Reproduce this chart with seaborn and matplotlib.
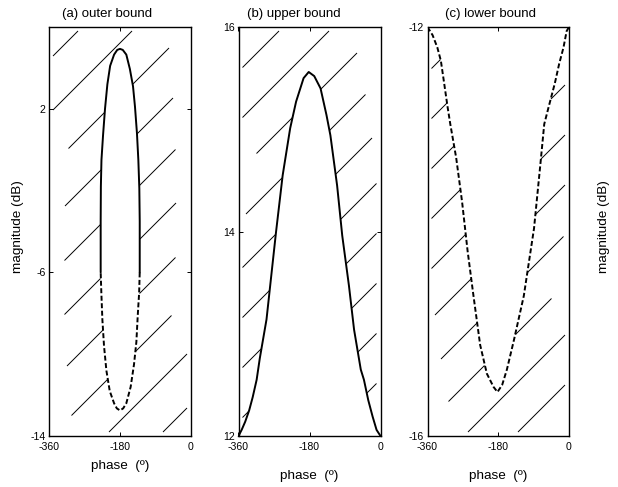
import numpy as np
import matplotlib
matplotlib.use("Agg")
import matplotlib.pyplot as plt
import seaborn as sns
from matplotlib.collections import LineCollection
from matplotlib.path import Path

# (a) outer bound: closed contour, solid upper arc and dashed lower arc
outer_upper_phase = [-229, -229, -228.5, -227, -223, -218, -212, -205, -195, -187, -180,
                     -173, -164, -155, -147, -142, -137, -133.5, -131, -130, -130]
outer_upper_mag = [-6.0, -3.5, -1.8, -0.5, 0.7, 2.0, 3.2, 4.1, 4.65, 4.88, 4.93,
                   4.88, 4.65, 3.95, 3.1, 2.1, 0.8, -0.5, -1.9, -3.5, -6.0]
outer_lower_phase = [-130, -131.5, -135, -138.5, -144.5, -153, -164, -172, -180,
                     -188, -195, -206, -214.5, -220.5, -224.7, -227.3, -229]
outer_lower_mag = [-6.0, -7.0, -8.1, -9.4, -10.5, -11.6, -12.4, -12.65, -12.75,
                   -12.65, -12.4, -11.8, -10.8, -9.6, -8.3, -7.0, -6.0]

# (b) upper bound
upper_phase = [-360, -352, -343, -333, -324, -314, -306, -289, -265, -248, -229, -214,
               -195, -182, -168, -152, -137, -127, -110, -97, -80, -67, -50, -42, -31,
               -20, -10, 0]
upper_mag = [12.0, 12.06, 12.14, 12.25, 12.38, 12.55, 12.76, 13.14, 13.99, 14.55, 15.01,
             15.27, 15.50, 15.56, 15.52, 15.40, 15.14, 14.94, 14.45, 13.96, 13.47, 13.04,
             12.65, 12.55, 12.35, 12.19, 12.06, 12.0]

# (c) lower bound
lower_phase = [-360, -347, -335, -326, -318, -309, -302, -287, -272, -258, -243, -226,
               -209, -192, -182, -170, -158, -140, -115, -89, -72, -63, -53, -36, -25,
               -14, -6, 0]
lower_mag = [-12.0, -12.08, -12.2, -12.33, -12.54, -12.78, -12.95, -13.28, -13.71, -14.19,
             -14.63, -15.11, -15.39, -15.52, -15.57, -15.50, -15.35, -15.06, -14.63, -13.97,
             -13.31, -12.95, -12.8, -12.55, -12.36, -12.2, -12.04, -12.0]

phase_ticks = [-360, -180, 0]
outer_ticks = [-14, -6, 2]
upper_ticks = [12, 14, 16]
lower_ticks = [-16, -12]

titles = ["(a) outer bound", "(b) upper bound", "(c) lower bound"]
xlabel = "phase  (º)"
ylabel = "magnitude (dB)"

sns.set_style("ticks")
plt.rcParams.update({
    "font.family": ["Liberation Sans", "DejaVu Sans"],
    "axes.unicode_minus": False,
    "lines.scale_dashes": False,
    "xtick.direction": "in", "ytick.direction": "in",
    "xtick.top": True, "ytick.right": True,
    "xtick.major.size": 3.0, "ytick.major.size": 3.0,
    "xtick.major.width": 0.7, "ytick.major.width": 0.7,
    "xtick.major.pad": 4.2, "ytick.major.pad": 2.5,
    "xtick.labelsize": 7.6, "ytick.labelsize": 7.6,
    "axes.linewidth": 1.0,
    "axes.edgecolor": "black",
    "xtick.color": "black", "ytick.color": "black",
    "text.color": "black", "axes.labelcolor": "black",
})

W, H = 618, 487
fig = plt.figure(figsize=(W / 100, H / 100), dpi=100)
TOP, BOTTOM = 27, 436


def add_panel(left, right):
    return fig.add_axes([left / W, (H - BOTTOM) / H, (right - left) / W, (BOTTOM - TOP) / H])


ax_a = add_panel(49, 191)
ax_b = add_panel(238.5, 380.5)
ax_c = add_panel(427.5, 569)

for ax, yt, ylim in [(ax_a, outer_ticks, (-14, 6)), (ax_b, upper_ticks, (12, 16)),
                     (ax_c, lower_ticks, (-16, -12))]:
    ax.set_xlim(-360, 0)
    ax.set_ylim(*ylim)
    ax.set_xticks(phase_ticks)
    ax.set_yticks(yt)
    ax.set_xticklabels([str(t) for t in phase_ticks])
    ax.set_yticklabels([str(t) for t in yt])
    for s in ax.spines.values():
        s.set_visible(True)


def draw_hatch(ax, forbidden, spacing, offset, reach=36, margin=4):
    """Short 45-degree strokes on the forbidden side of a bound."""
    bb = ax.bbox
    x0, x1 = bb.x0 + margin, bb.x1 - margin
    y0, y1 = bb.y0 + margin, bb.y1 - margin
    hpx = fig.bbox.height
    inv = ax.transData.inverted()
    segs = []
    c_min = x0 + (hpx - y1)
    c_max = x1 + (hpx - y0)
    n0 = int(np.ceil((c_min - offset) / spacing))
    n1 = int(np.floor((c_max - offset) / spacing))
    for n in range(n0, n1 + 1):
        k = hpx - (offset + n * spacing)
        lo, hi = max(x0, y0 - k), min(x1, y1 - k)
        if hi - lo < 2:
            continue
        xs = np.append(np.arange(lo, hi, 0.5), hi)
        pts = inv.transform(np.column_stack([xs, xs + k]))
        bad = forbidden(pts).astype(int)
        edges = np.flatnonzero(np.diff(np.r_[0, bad, 0]))
        for s, e in zip(edges[::2], edges[1::2] - 1):
            xa, xb = xs[s], xs[e]
            touch_s, touch_e = s > 0, e < len(xs) - 1
            pieces = []
            if touch_s and touch_e:
                if xb - xa <= 2 * reach:
                    pieces.append((xa, xb))
                else:
                    pieces += [(xa, xa + reach), (xb - reach, xb)]
            elif touch_s:
                pieces.append((xa, min(xb, xa + reach)))
            elif touch_e:
                pieces.append((max(xa, xb - reach), xb))
            else:
                pieces.append((xa, xb))
            for a, b in pieces:
                if b - a < 2:
                    continue
                segs.append(inv.transform([[a, a + k], [b, b + k]]))
    ax.add_collection(LineCollection(segs, colors="black", linewidths=0.7), autolim=False)


# (a) outer bound
closed = Path(np.column_stack([outer_upper_phase + outer_lower_phase[1:],
                               outer_upper_mag + outer_lower_mag[1:]]))
draw_hatch(ax_a, lambda p: ~closed.contains_points(p), spacing=54, offset=109)
sns.lineplot(x=outer_upper_phase, y=outer_upper_mag, sort=False, estimator=None,
             color="black", lw=1.4, ax=ax_a)
sns.lineplot(x=outer_lower_phase, y=outer_lower_mag, sort=False, estimator=None,
             color="black", lw=1.4, ls="--", ax=ax_a)
ax_a.lines[-1].set_dashes((3.6, 1.8))

# (b) upper bound
draw_hatch(ax_b, lambda p: p[:, 1] > np.interp(p[:, 0], upper_phase, upper_mag),
           spacing=50, offset=310)
sns.lineplot(x=upper_phase, y=upper_mag, sort=False, estimator=None,
             color="black", lw=1.4, ax=ax_b)

# (c) lower bound
draw_hatch(ax_c, lambda p: p[:, 1] < np.interp(p[:, 0], lower_phase, lower_mag),
           spacing=50, offset=500)
sns.lineplot(x=lower_phase, y=lower_mag, sort=False, estimator=None,
             color="black", lw=1.4, ls="--", ax=ax_c)
ax_c.lines[-1].set_dashes((3.6, 1.8))

# titles and axis labels
for ax, title, tx in [(ax_a, titles[0], 0.406), (ax_b, titles[1], 0.391), (ax_c, titles[2], 0.442)]:
    t = ax.set_title(title, fontsize=9.5, y=1.032, pad=0)
    t.set_x(tx)
    t.set_va("center")

for ax, ly in [(ax_a, -0.0733), (ax_b, -0.0978), (ax_c, -0.0978)]:
    ax.set_xlabel(xlabel, fontsize=9.7)
    ax.xaxis.set_label_coords(0.5, ly)
    ax.xaxis.label.set_va("center")

ax_a.set_ylabel(ylabel, fontsize=9.7)
ax_a.yaxis.set_label_coords(-0.218, 0.511)
ax_a.yaxis.label.set_va("center")

ax_b.set_ylabel("")

ax_c.set_ylabel(ylabel, fontsize=9.7)
ax_c.yaxis.set_label_position("right")
ax_c.yaxis.set_label_coords(1.247, 0.513)
ax_c.yaxis.label.set_va("center")

fig.savefig("out.png", dpi=100)
